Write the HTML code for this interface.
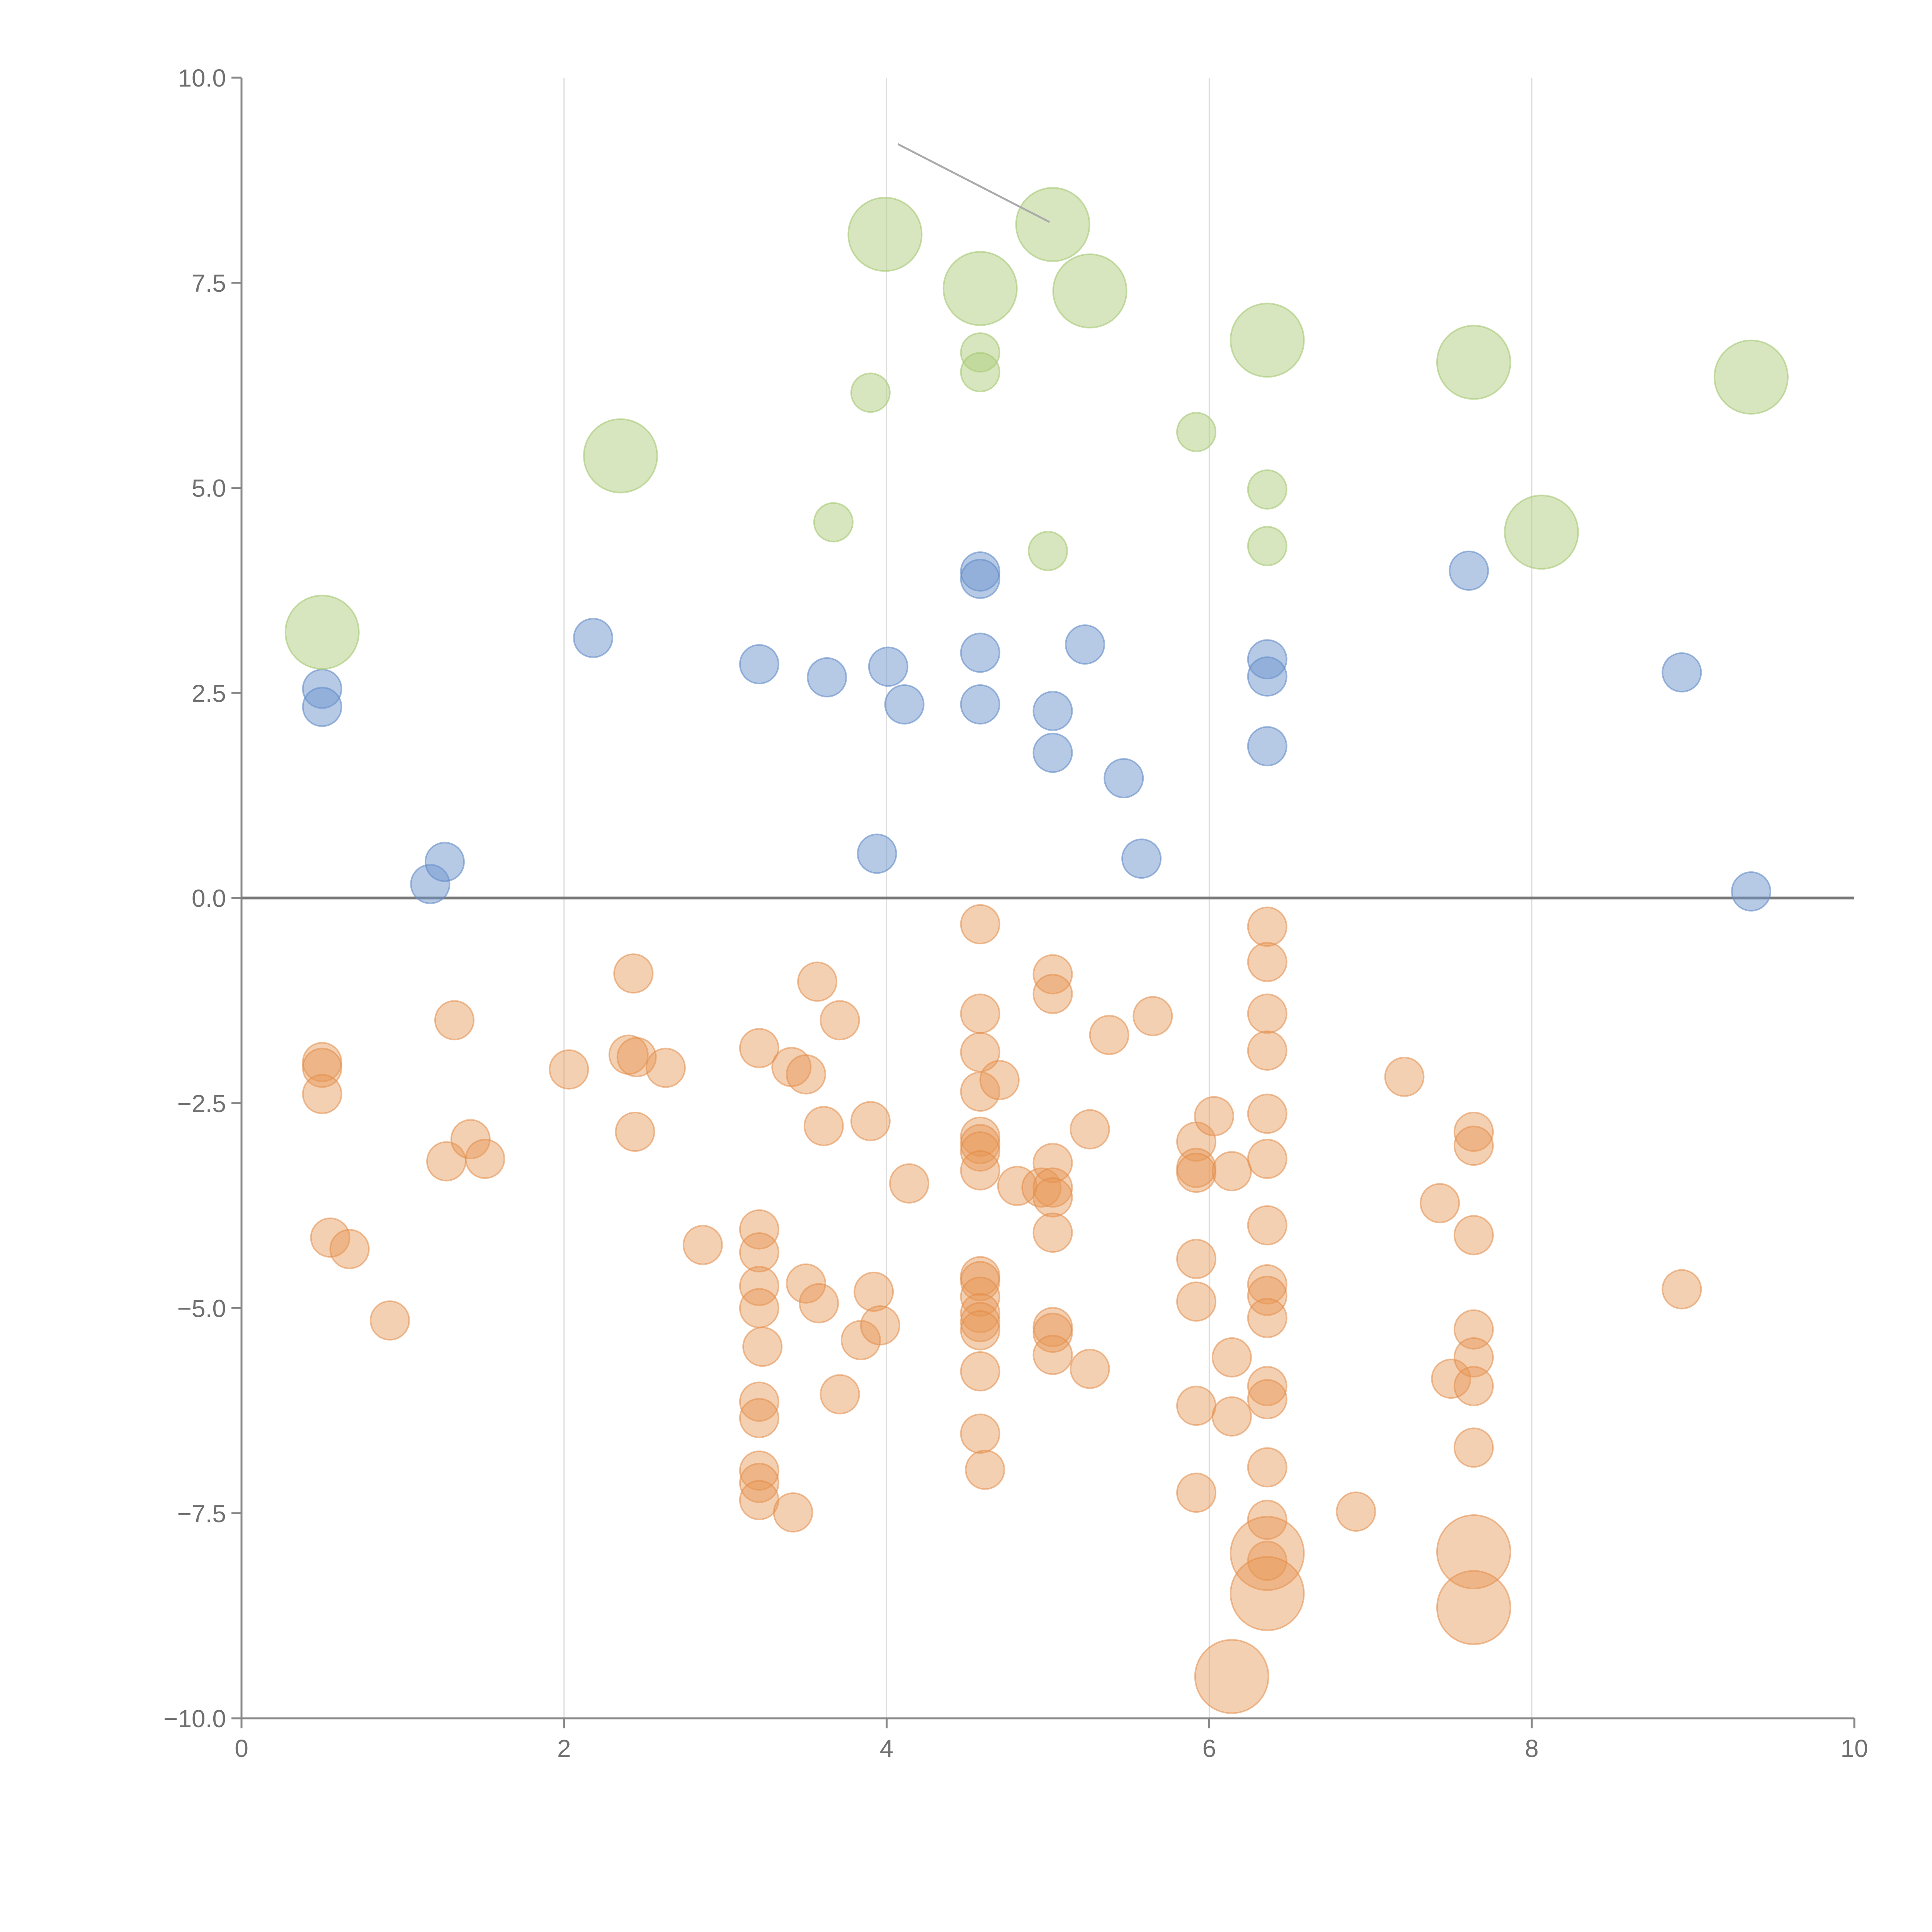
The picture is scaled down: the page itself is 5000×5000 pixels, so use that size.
<!DOCTYPE html>
<html><head><meta charset="utf-8"><style>
html,body{margin:0;padding:0;background:#fff;width:5000px;height:5000px;overflow:hidden;}
svg{display:block;}
svg text{font-family:"Liberation Sans",sans-serif;fill:#707070;}
</style></head><body>
<svg id="chart" width="5000" height="5000" viewBox="0 0 5000 5000" xmlns="http://www.w3.org/2000/svg"></svg>
<script>
const xTicks=[0,2,4,6,8,10];
const yTicks=[10,7.5,5,2.5,0,-2.5,-5,-7.5,-10];
const yTickLabels=["10.0","7.5","5.0","2.5","0.0","\u22122.5","\u22125.0","\u22127.5","\u221210.0"];
const blueX=[0.5,0.5,1.17,1.26,2.18,3.21,3.63,4.01,4.11,3.94,4.58,4.58,4.58,4.58,5.03,5.03,5.23,5.47,5.58,6.36,6.36,6.36,7.61,8.93,9.36];
const blueY=[2.55,2.33,0.17,0.44,3.17,2.85,2.69,2.82,2.36,0.54,3.98,3.89,2.99,2.36,2.28,1.77,3.09,1.46,0.48,2.91,2.70,1.85,3.99,2.75,0.08];
const greenX=[0.5,2.35,3.99,5.03,4.58,5.26,6.36,7.64,9.36,8.06,4.58,4.58,3.90,3.67,5.92,6.36,6.36,5.0];
const greenY=[3.24,5.39,8.09,8.21,7.43,7.40,6.80,6.53,6.35,4.46,6.65,6.41,6.16,4.58,5.68,4.98,4.29,4.23];
const greenBig=[1,1,1,1,1,1,1,1,1,1,0,0,0,0,0,0,0,0];
const orangeX=[4.58,2.43,1.32,0.5,0.5,0.5,2.03,2.40,2.45,2.63,2.44,1.27,1.42,1.51,0.55,0.67,0.92,2.86,3.21,3.41,3.50,3.57,3.71,3.61,3.90,4.14,3.21,3.21,3.21,3.21,3.23,3.50,3.58,3.92,3.84,3.96,3.71,3.21,3.21,3.21,3.21,3.21,3.42,
4.58,4.58,4.58,4.58,4.58,4.58,4.58,4.58,4.58,4.58,4.58,4.58,4.58,4.58,4.58,4.61,4.70,4.81,4.96,
5.03,5.03,5.03,5.03,5.03,5.03,5.03,5.03,5.03,5.26,5.26,5.38,5.65,
5.92,5.92,5.92,5.92,5.92,5.92,5.92,6.03,6.14,6.14,6.14,
6.36,6.36,6.36,6.36,6.36,6.36,6.36,6.36,6.36,6.36,6.36,6.36,6.36,6.36,6.36,6.91,7.21,7.43,7.50,
7.64,7.64,7.64,7.64,7.64,7.64,7.64,8.93,
6.36,6.36,7.64,7.64,6.14];
const orangeY=[-0.32,-0.92,-1.49,-2.0,-2.07,-2.39,-2.09,-1.91,-1.94,-2.07,-2.85,-3.21,-2.94,-3.18,-4.14,-4.28,-5.15,-4.23,-1.83,-2.06,-2.15,-1.02,-1.49,-2.78,-2.72,-3.48,-4.04,-4.32,-4.73,-5.0,-5.47,-4.70,-4.94,-4.80,-5.39,-5.21,-6.05,-6.14,-6.34,-6.98,-7.13,-7.34,-7.49,
-1.41,-1.88,-2.36,-2.91,-3.0,-3.09,-3.32,-4.61,-4.67,-4.86,-5.06,-5.17,-5.27,-5.77,-6.53,-6.97,-2.22,-3.51,-3.53,
-0.93,-1.17,-3.23,-3.53,-3.65,-4.08,-5.23,-5.30,-5.57,-2.82,-5.74,-1.67,-1.44,
-2.97,-3.29,-3.35,-4.40,-4.92,-6.19,-7.25,-2.66,-3.33,-5.6,-6.32,
-0.35,-0.78,-1.41,-1.86,-2.63,-3.18,-3.99,-4.71,-4.85,-5.12,-5.95,-6.11,-6.94,-7.58,-8.08,-7.48,-2.18,-3.72,-5.86,
-2.85,-3.02,-4.11,-5.26,-5.60,-5.95,-6.70,-4.77,
-7.99,-8.48,-7.97,-8.65,-9.49];
const orangeBigCount=5;
const annotX=[4.07,5.01];
const annotY=[9.19,8.24];

const X0=625,X1=4799,Y0=4447,Y1=201;
function sx(v){return X0+(v-0)/(10-0)*(X1-X0);}
function sy(v){return Y0-(v+10)/20*(Y0-Y1);}
const NS="http://www.w3.org/2000/svg";
const svg=document.getElementById('chart');
function mk(tag,attrs,parent){const e=document.createElementNS(NS,tag);for(const k in attrs)e.setAttribute(k,attrs[k]);(parent||svg).appendChild(e);return e;}

xTicks.forEach(t=>{if(t>0&&t<10){const g=mk('line',{x1:sx(t),x2:sx(t),y1:Y1,y2:Y0,stroke:'#ddd','stroke-width':3});

}});
const ya=mk('line',{x1:X0,x2:X0,y1:Y1,y2:Y0,stroke:'#888','stroke-width':5});


const xa=mk('line',{x1:X0,x2:X1,y1:Y0,y2:Y0,stroke:'#888','stroke-width':5});


xTicks.forEach(t=>{mk('line',{x1:sx(t),x2:sx(t),y1:Y0,y2:Y0+26,stroke:'#888','stroke-width':5});
const tx=mk('text',{x:sx(t),y:Y0+100,'font-size':64,'text-anchor':'middle'});tx.textContent=t;

});
yTicks.forEach((t,i)=>{mk('line',{x1:X0-26,x2:X0,y1:sy(t),y2:sy(t),stroke:'#888','stroke-width':5});
const tx=mk('text',{x:X0-40,y:sy(t)+23,'font-size':64,'text-anchor':'end'});tx.textContent=yTickLabels[i];

});
const zl=mk('line',{x1:X0,x2:X1,y1:sy(0),y2:sy(0),stroke:'#777','stroke-width':7});



function dot(x,y,r,fill,stroke,name){const c=mk('circle',{cx:sx(x),cy:sy(y),r:r,fill:fill,stroke:stroke,'stroke-width':4});

}
const SMALL=50,BIG=95;
for(let i=0;i<orangeX.length;i++){const big=i>=orangeX.length-orangeBigCount;
dot(orangeX[i],orangeY[i],big?BIG:SMALL,'rgba(230,150,85,0.45)','rgba(225,140,75,0.55)','orange-bubble');}
for(let i=0;i<blueX.length;i++)dot(blueX[i],blueY[i],SMALL,'rgba(110,150,205,0.5)','rgba(100,140,200,0.6)','blue-bubble');
for(let i=0;i<greenX.length;i++)dot(greenX[i],greenY[i],greenBig[i]?BIG:SMALL,'rgba(175,205,125,0.5)','rgba(165,200,115,0.6)','green-bubble');

const an=mk('line',{x1:sx(annotX[0]),y1:sy(annotY[0]),x2:sx(annotX[1]),y2:sy(annotY[1]),stroke:'#aaa','stroke-width':5});


</script>
</body></html>
